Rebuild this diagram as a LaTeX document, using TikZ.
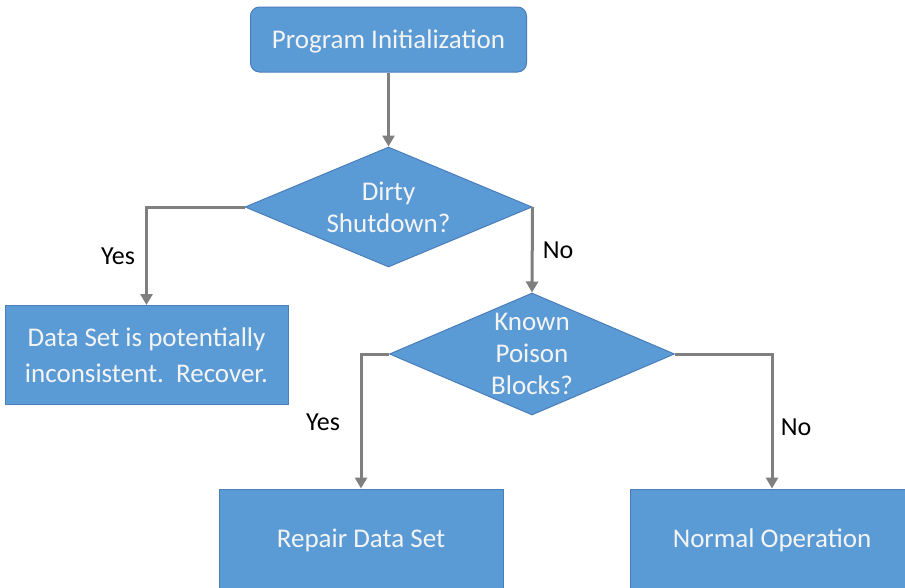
\documentclass[tikz,border=0pt]{standalone}
\usepackage{fontspec}
\setmainfont{Carlito}
\usetikzlibrary{shapes.geometric,arrows.meta}
\definecolor{boxblue}{HTML}{5B9BD5}
\definecolor{boxedge}{HTML}{4A7EBB}
\definecolor{arrowgray}{HTML}{7F7F7F}
\definecolor{textwhite}{HTML}{F4F4F4}
\begin{document}
\begin{tikzpicture}[x=1pt,y=-1pt,
  box/.style={rectangle, fill=boxblue, draw=boxedge, line width=1pt, text=textwhite, align=center, inner sep=0pt, font=\fontsize{27}{36}\selectfont},
  onebox/.style={box, text height=18pt, text depth=1pt},
  decision/.style={diamond, fill=boxblue, draw=boxedge, line width=1pt, inner sep=0pt, minimum width=287pt, minimum height=120pt},
  dtext/.style={text=textwhite, align=center, inner sep=0pt, font=\fontsize{27}{32}\selectfont},
  flow/.style={draw=arrowgray, line width=3pt, -{Triangle[width=12pt,length=11pt]}},
  lbl/.style={font=\fontsize{26}{30}\selectfont, text=black}
]
\useasboundingbox (0,0) rectangle (905,587);
\clip (0,0) rectangle (905,587);
\fill[white] (0,0) rectangle (905,587);

\node[onebox, rounded corners=9pt, minimum width=276pt, minimum height=65pt] (init) at (388.5,39.5) {Program Initialization};
\node[decision] (d1) at (388.5,207) {};
\node[dtext] (d1t) at (d1.center) {Dirty\\Shutdown?};
\node[box, minimum width=283pt, minimum height=99pt] (recover) at (146.5,355) {Data Set is potentially\\inconsistent.\ \ Recover.};
\node[decision, minimum width=285pt, minimum height=122pt] (d2) at (532,354) {};
\node[dtext] (d2t) at (d2.center) {Known\\Poison\\Blocks?};
\node[onebox, minimum width=284pt, minimum height=99pt] (repair) at (361,538.5) {Repair Data Set};
\node[onebox, minimum width=284pt, minimum height=99pt] (normal) at (772,538.5) {Normal Operation};

\draw[flow] (init.south) -- (d1.north);
\draw[flow] (d1.west) -| (recover.north);
\draw[flow] (d1.east) -- (d2.north);
\draw[flow] (d2.west) -| (repair.north);
\draw[flow] (d2.east) -| (normal.north);

\node[lbl] (y1) at (118,256) {Yes};
\node[lbl] (n1) at (558,250) {No};
\node[lbl] (y2) at (323,422) {Yes};
\node[lbl] (n2) at (796,427) {No};
\end{tikzpicture}
\end{document}
